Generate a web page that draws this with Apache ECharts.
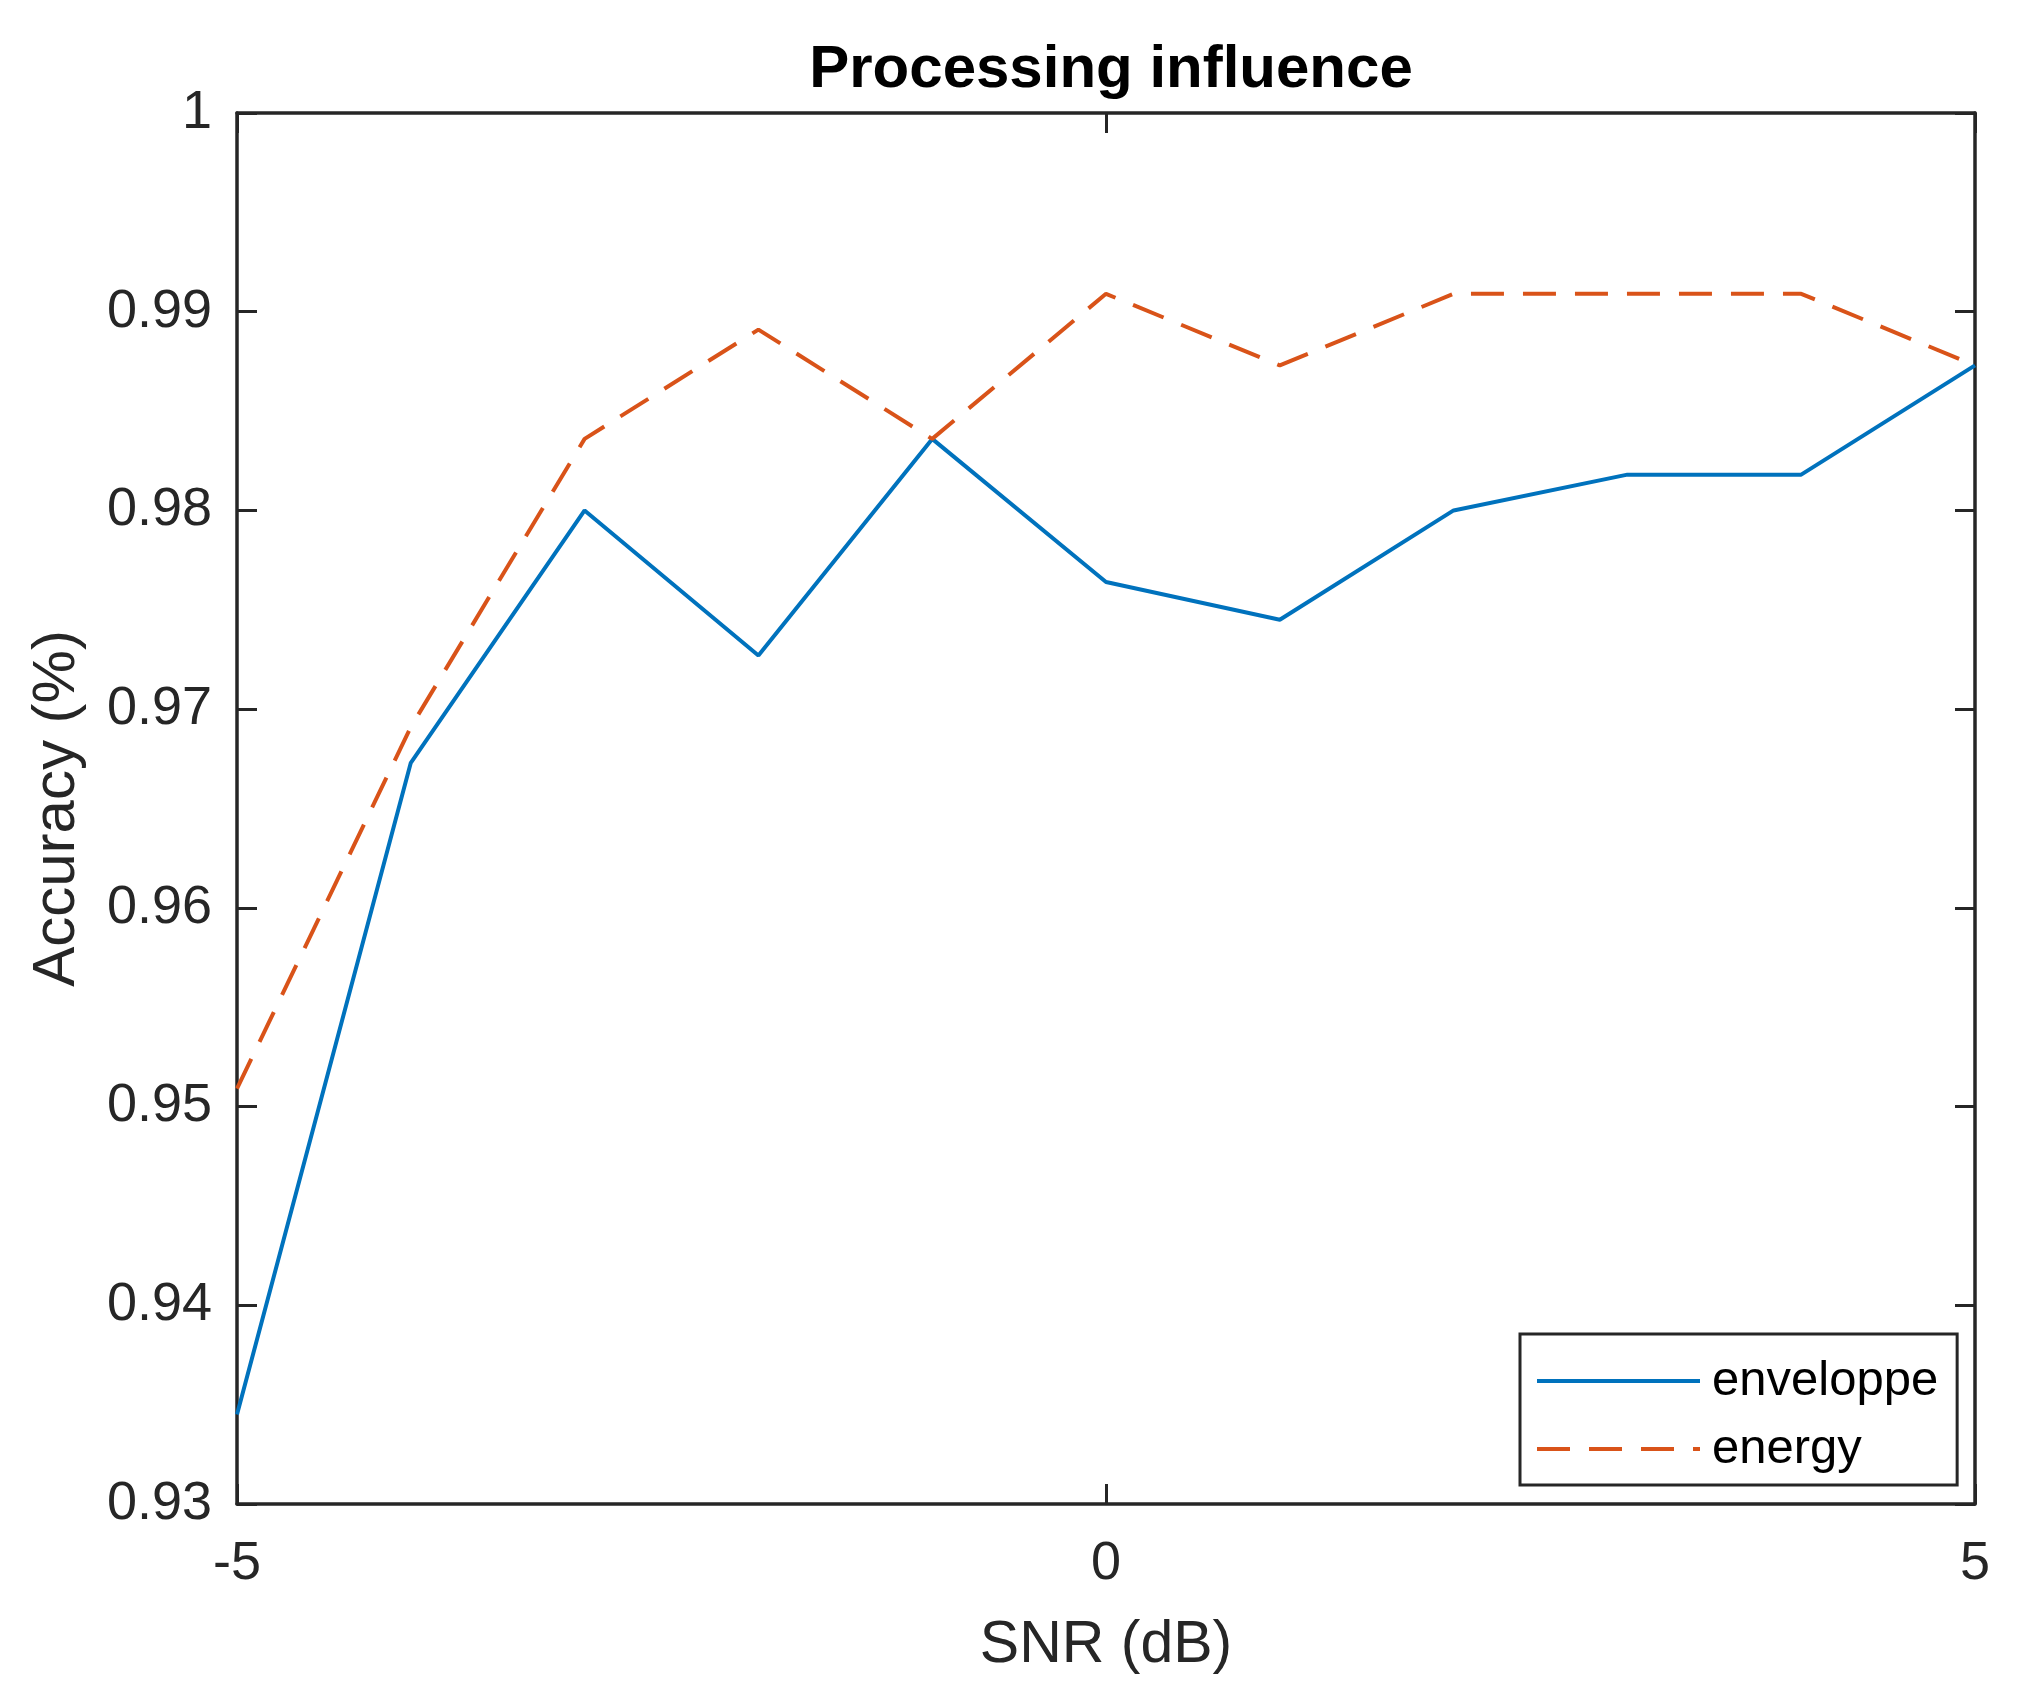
<!DOCTYPE html>
<html>
<head>
<meta charset="utf-8">
<script src="https://cdn.jsdelivr.net/npm/echarts@6/dist/echarts.min.js"></script>
<style>
html,body{margin:0;padding:0;background:#fff;}
#chart{width:2021px;height:1694px;}
</style>
</head>
<body>
<div id="chart"></div>
<script>
const snr = [-5, -4, -3, -2, -1, 0, 1, 2, 3, 4, 5];
const enveloppe = [0.9345, 0.9673, 0.9800, 0.9727, 0.9836, 0.9764, 0.9745, 0.9800, 0.9818, 0.9818, 0.9873];
const energy = [0.9509, 0.9691, 0.9836, 0.9891, 0.9836, 0.9909, 0.9873, 0.9909, 0.9909, 0.9909, 0.9873];
const seriesNames = ['enveloppe', 'energy'];
const titleText = 'Processing influence';
const xName = 'SNR (dB)';
const yName = 'Accuracy (%)';

const FONT = '"Liberation Sans", Arial, Helvetica, sans-serif';
const AX = '#262626';
const chart = echarts.init(document.getElementById('chart'), null, {renderer: 'canvas'});

const pairs = arr => snr.map((x, i) => [x, arr[i]]);
const yFmt = v => String(parseFloat(v.toFixed(2)));

const GL = 237, GT = 113, GW = 1738, GH = 1391;

const axisCommon = {
  axisLine: {show: true, onZero: false, lineStyle: {color: AX, width: 3.5}},
  axisTick: {show: true, inside: true, length: 20, lineStyle: {color: AX, width: 3}},
  splitLine: {show: false}
};

chart.setOption({
  backgroundColor: '#fff',
  animation: false,
  title: {
    text: titleText,
    left: GL + GW / 2, top: 35, textAlign: 'center',
    textStyle: {fontFamily: FONT, fontSize: 60, fontWeight: 'bold', color: '#000'}
  },
  grid: {left: GL, top: GT, width: GW, height: GH, containLabel: false},
  legend: {
    left: 1520, top: 1334, orient: 'vertical',
    itemWidth: 163, itemHeight: 50, itemGap: 18,
    padding: [22, 19, 11, 15],
    borderColor: AX, borderWidth: 3, backgroundColor: '#fff',
    itemStyle: {color: 'transparent', borderWidth: 0, opacity: 0},
    lineStyle: {width: 4},
    textStyle: {fontFamily: FONT, fontSize: 49, color: '#000', lineHeight: 50, padding: [0, 0, 0, 7]},
    data: seriesNames
  },
  xAxis: [
    Object.assign({}, axisCommon, {
      type: 'value', position: 'bottom', min: -5, max: 5, interval: 5,
      name: xName, nameLocation: 'middle', nameGap: 112,
      nameTextStyle: {fontFamily: FONT, fontSize: 59, color: AX},
      axisLabel: {fontFamily: FONT, fontSize: 54, color: AX, margin: 33}
    }),
    Object.assign({}, axisCommon, {
      type: 'value', position: 'top', min: -5, max: 5, interval: 5,
      axisLabel: {show: false}
    })
  ],
  yAxis: [
    Object.assign({}, axisCommon, {
      type: 'value', position: 'left', min: 0.93, max: 1, interval: 0.01,
      name: yName, nameLocation: 'middle', nameGap: 150,
      nameTextStyle: {fontFamily: FONT, fontSize: 60, color: AX},
      axisLabel: {fontFamily: FONT, fontSize: 54, color: AX, margin: 25, formatter: yFmt}
    }),
    Object.assign({}, axisCommon, {
      type: 'value', position: 'right', min: 0.93, max: 1, interval: 0.01,
      axisLabel: {show: false}
    })
  ],
  series: [
    {
      name: seriesNames[0], type: 'line', data: pairs(enveloppe),
      xAxisIndex: 0, yAxisIndex: 0, showSymbol: false, symbol: 'none',
      lineStyle: {color: '#0072BD', width: 4}, itemStyle: {color: '#0072BD'}
    },
    {
      name: seriesNames[1], type: 'line', data: pairs(energy),
      xAxisIndex: 0, yAxisIndex: 0, showSymbol: false, symbol: 'none',
      lineStyle: {color: '#D95319', width: 4, type: [33, 19]}, itemStyle: {color: '#D95319'}
    }
  ]
});
</script>
</body>
</html>
